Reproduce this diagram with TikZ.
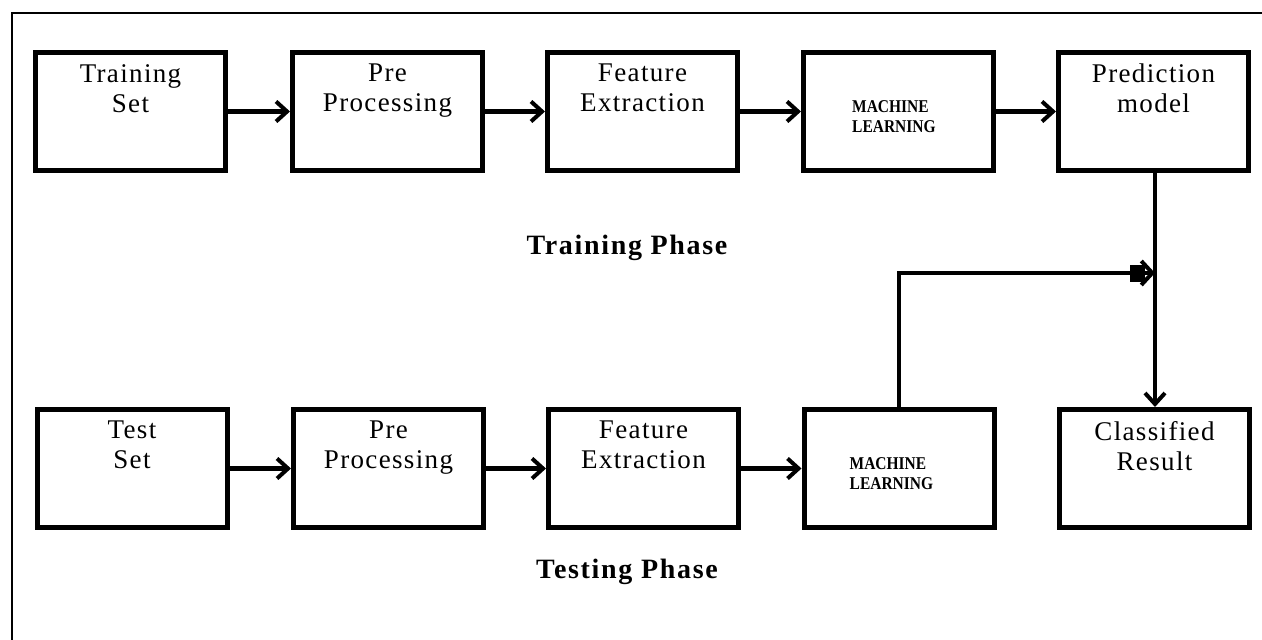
\documentclass[tikz,border=0pt]{standalone}
\usepackage{fontspec}
\newfontfamily\mlfont[FakeStretch=0.86]{Liberation Serif}
\newfontfamily\phasefont[LetterSpace=6]{Liberation Serif}
\newfontfamily\lblfont[LetterSpace=5]{Liberation Serif}
\usetikzlibrary{arrows.meta,calc}
\tikzset{
  box/.style={draw, line width=5pt, rectangle, minimum width=190pt, minimum height=118pt, inner sep=0pt},
  lbl/.style={inner sep=0pt, align=center, anchor=north, font=\lblfont\fontsize{27}{30}\selectfont},
  mltext/.style={inner sep=0pt, align=left, anchor=north west, font=\mlfont\bfseries\fontsize{18}{20}\selectfont},
  phase/.style={inner sep=0pt, font=\phasefont\bfseries\fontsize{28}{30}\selectfont},
  arr/.style={line width=4.5pt, -{Straight Barb[length=11pt,width=20pt,line width=4pt]}},
  conn/.style={line width=4pt},
}
\begin{document}
\begin{tikzpicture}[x=1pt,y=-1pt]
\useasboundingbox (0,0) rectangle (1262,640);
\fill[white] (0,0) rectangle (1262,640);
% outer frame
\draw[line width=2.2pt] (12,640) -- (12,13) -- (1262,13);
% training row
\node[box] (ts) at (130.5,111.5) {};
\node[box] (pp1) at (387.5,111.5) {};
\node[box] (fe1) at (642.5,111.5) {};
\node[box] (ml1) at (898.5,111.5) {};
\node[box] (pm) at (1153.5,111.5) {};
% testing row
\node[box] (tes) at (132,468.5) {};
\node[box] (pp2) at (388.5,468.5) {};
\node[box] (fe2) at (643.5,468.5) {};
\node[box] (ml2) at (899,468.5) {};
\node[box] (cr) at (1154.5,468.5) {};
% labels
\node[lbl] (tsl) at ($(ts.north)+(0,14)$) {Training\\Set};
\node[lbl] (pp1l) at ($(pp1.north)+(0,14)$) {Pre\\Processing};
\node[lbl] (fe1l) at ($(fe1.north)+(0,14)$) {Feature\\Extraction};
\node[mltext] (ml1l) at ($(ml1.north west)+(51,50)$) {MACHINE\\LEARNING};
\node[lbl] (pml) at ($(pm.north)+(0,14)$) {Prediction\\model};
\node[lbl] (tesl) at ($(tes.north)+(0,14)$) {Test\\Set};
\node[lbl] (pp2l) at ($(pp2.north)+(0,14)$) {Pre\\Processing};
\node[lbl] (fe2l) at ($(fe2.north)+(0,14)$) {Feature\\Extraction};
\node[mltext] (ml2l) at ($(ml2.north west)+(48,50)$) {MACHINE\\LEARNING};
\node[lbl] (crl) at ($(cr.north)+(0,14)$) {Classified\\Result};
% phase titles
\node[phase] (tph) at (627,248) {Training Phase};
\node[phase] (teph) at (627,572) {Testing Phase};
% arrows
\draw[arr] (ts) -- (pp1);
\draw[arr] (pp1) -- (fe1);
\draw[arr] (fe1) -- (ml1);
\draw[arr] (ml1) -- (pm);
\draw[arr] (tes) -- (pp2);
\draw[arr] (pp2) -- (fe2);
\draw[arr] (fe2) -- (ml2);
\coordinate (merge) at (1155,273);
\draw[arr] (pm.south -| merge) -- (cr.north -| merge);
\draw[conn, -{Straight Barb[length=11pt,width=24pt,line width=4pt]}] (ml2.north) |- (merge);
\fill (1130,265) rectangle (1145,282);
\end{tikzpicture}
\end{document}
